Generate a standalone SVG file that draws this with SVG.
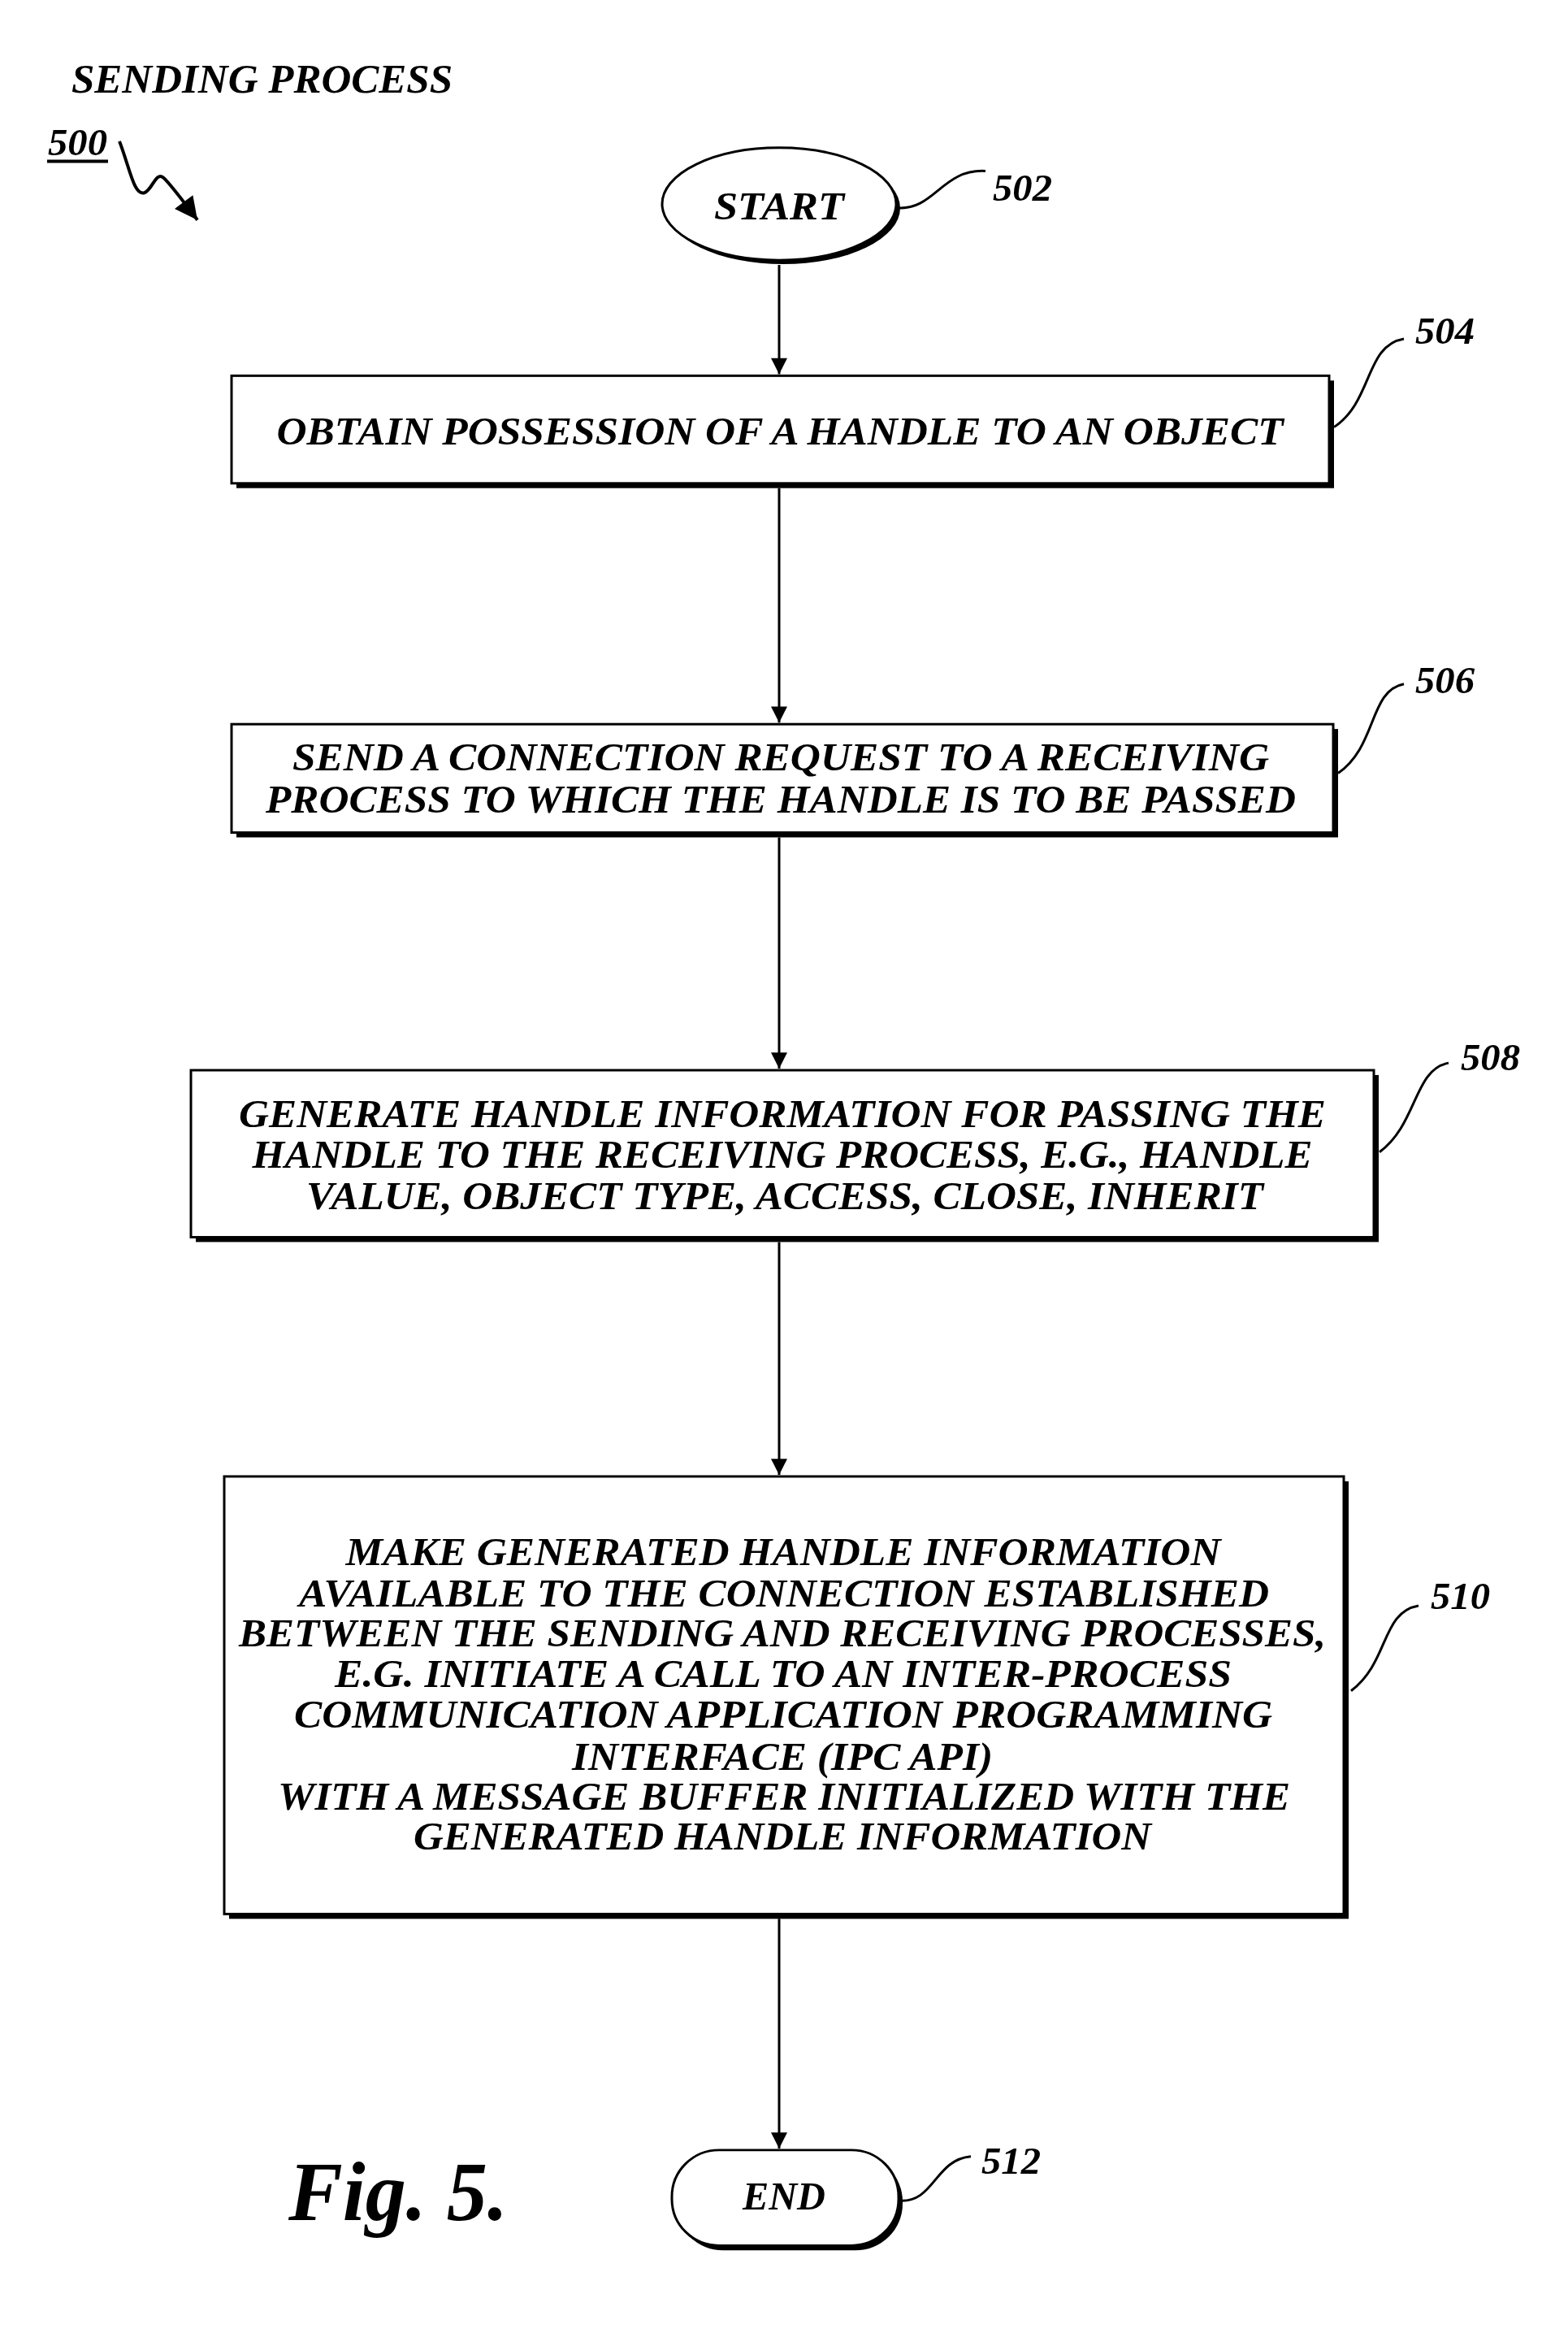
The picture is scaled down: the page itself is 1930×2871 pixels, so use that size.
<svg xmlns="http://www.w3.org/2000/svg" width="1930" height="2871" viewBox="0 0 1930 2871">
<style>
text{font-family:"Liberation Serif","Times New Roman",serif;font-weight:bold;font-style:italic;fill:#000}
.t{font-size:50px;text-anchor:middle}
.n{font-size:48px}
.box{fill:#fff;stroke:#000;stroke-width:3}
.sh{fill:#000}
.ln{fill:none;stroke:#000;stroke-width:3}
.ld{fill:none;stroke:#000;stroke-width:3}
</style>
<defs>
<marker id="ah" viewBox="0 0 10 10" refX="10" refY="5" markerWidth="30" markerHeight="20" markerUnits="userSpaceOnUse" orient="auto"><path d="M0,0 L10,5 L0,10 z" fill="#000"/></marker>
<marker id="ah2" viewBox="0 0 10 10" refX="10" refY="5" markerWidth="50" markerHeight="28" markerUnits="userSpaceOnUse" orient="auto"><path d="M0,0 L10,5 L0,10 z" fill="#000"/></marker>
</defs>
<g transform="scale(1,0.988)">
<g id="title">
<text x="88" y="115" font-size="52" textLength="469" lengthAdjust="spacingAndGlyphs">SENDING PROCESS</text>
<text x="59" y="193" class="n" textLength="73" lengthAdjust="spacingAndGlyphs">500</text>
<line x1="58" y1="201" x2="133" y2="201" stroke="#000" stroke-width="4"/>
<path d="M147,176 C160,210 165,245 178,240 C188,236 192,212 202,222 C212,232 225,250 243,274" class="ln" style="stroke-width:4" marker-end="url(#ah2)"/>
</g>
<g id="connectors">
<line x1="959" y1="330" x2="959" y2="466" class="ln" marker-end="url(#ah)"/>
<line x1="959" y1="608" x2="959" y2="900" class="ln" marker-end="url(#ah)"/>
<line x1="959" y1="1043" x2="959" y2="1331" class="ln" marker-end="url(#ah)"/>
<line x1="959" y1="1547" x2="959" y2="1837" class="ln" marker-end="url(#ah)"/>
<line x1="959" y1="2390" x2="959" y2="2676" class="ln" marker-end="url(#ah)"/>
</g>
<g id="n502">
<ellipse cx="964" cy="259" rx="144" ry="70" class="sh"/>
<ellipse cx="959" cy="254" rx="144" ry="70" class="box"/>
<text x="959" y="273" class="t" textLength="160" lengthAdjust="spacingAndGlyphs">START</text>
<path d="M1105,259 C1150,262 1160,210 1213,213" class="ld"/>
<text x="1222" y="250" class="n" textLength="73" lengthAdjust="spacingAndGlyphs">502</text>
</g>
<g id="n504">
<rect x="291" y="474" width="1351" height="134" class="sh"/>
<rect x="285" y="468" width="1351" height="134" class="box"/>
<text x="960" y="554" class="t" textLength="1239" lengthAdjust="spacingAndGlyphs">OBTAIN POSSESSION OF A HANDLE TO AN OBJECT</text>
<path d="M1642,532 C1690,500 1680,430 1728,422" class="ld"/>
<text x="1742" y="428" class="n" textLength="73" lengthAdjust="spacingAndGlyphs">504</text>
</g>
<g id="n506">
<rect x="291" y="908" width="1356" height="135" class="sh"/>
<rect x="285" y="902" width="1356" height="135" class="box"/>
<text x="961" y="960" class="t" textLength="1202" lengthAdjust="spacingAndGlyphs">SEND A CONNECTION REQUEST TO A RECEIVING</text>
<text x="961" y="1012" class="t" textLength="1268" lengthAdjust="spacingAndGlyphs">PROCESS TO WHICH THE HANDLE IS TO BE PASSED</text>
<path d="M1647,963 C1695,930 1685,860 1728,852" class="ld"/>
<text x="1742" y="863" class="n" textLength="73" lengthAdjust="spacingAndGlyphs">506</text>
</g>
<g id="n508">
<rect x="241" y="1339" width="1456" height="208" class="sh"/>
<rect x="235" y="1333" width="1456" height="208" class="box"/>
<text x="963" y="1404" class="t" textLength="1338" lengthAdjust="spacingAndGlyphs">GENERATE HANDLE INFORMATION FOR PASSING THE</text>
<text x="963" y="1454" class="t" textLength="1305" lengthAdjust="spacingAndGlyphs">HANDLE TO THE RECEIVING PROCESS, E.G., HANDLE</text>
<text x="966" y="1506" class="t" textLength="1178" lengthAdjust="spacingAndGlyphs">VALUE, OBJECT TYPE, ACCESS, CLOSE, INHERIT</text>
<path d="M1698,1435 C1745,1400 1740,1332 1783,1324" class="ld"/>
<text x="1798" y="1333" class="n" textLength="73" lengthAdjust="spacingAndGlyphs">508</text>
</g>
<g id="n510">
<rect x="282" y="1845" width="1378" height="545" class="sh"/>
<rect x="276" y="1839" width="1378" height="545" class="box"/>
<text x="964" y="1949" class="t" textLength="1077" lengthAdjust="spacingAndGlyphs">MAKE GENERATED HANDLE INFORMATION</text>
<text x="965" y="2001" class="t" textLength="1194" lengthAdjust="spacingAndGlyphs">AVAILABLE TO THE CONNECTION ESTABLISHED</text>
<text x="963" y="2051" class="t" textLength="1338" lengthAdjust="spacingAndGlyphs">BETWEEN THE SENDING AND RECEIVING PROCESSES,</text>
<text x="964" y="2101" class="t" textLength="1104" lengthAdjust="spacingAndGlyphs">E.G. INITIATE A CALL TO AN INTER-PROCESS</text>
<text x="964" y="2152" class="t" textLength="1204" lengthAdjust="spacingAndGlyphs">COMMUNICATION APPLICATION PROGRAMMING</text>
<text x="963" y="2204" class="t" textLength="518" lengthAdjust="spacingAndGlyphs">INTERFACE (IPC API)</text>
<text x="965" y="2254" class="t" textLength="1246" lengthAdjust="spacingAndGlyphs">WITH A MESSAGE BUFFER INITIALIZED WITH THE</text>
<text x="963" y="2304" class="t" textLength="908" lengthAdjust="spacingAndGlyphs">GENERATED HANDLE INFORMATION</text>
<path d="M1663,2106 C1710,2070 1700,2008 1746,2000" class="ld"/>
<text x="1761" y="2004" class="n" textLength="73" lengthAdjust="spacingAndGlyphs">510</text>
</g>
<g id="n512">
<rect x="832" y="2684" width="279" height="119" rx="58" class="sh"/>
<rect x="827" y="2678" width="279" height="119" rx="58" class="box"/>
<text x="965" y="2752" class="t" textLength="102" lengthAdjust="spacingAndGlyphs">END</text>
<path d="M1106,2741 C1150,2745 1150,2690 1195,2686" class="ld"/>
<text x="1208" y="2708" class="n" textLength="73" lengthAdjust="spacingAndGlyphs">512</text>
</g>
<g id="fig">
<text x="355" y="2765" font-size="104" textLength="270" lengthAdjust="spacingAndGlyphs">Fig. 5.</text>
</g>
</g>
</svg>
